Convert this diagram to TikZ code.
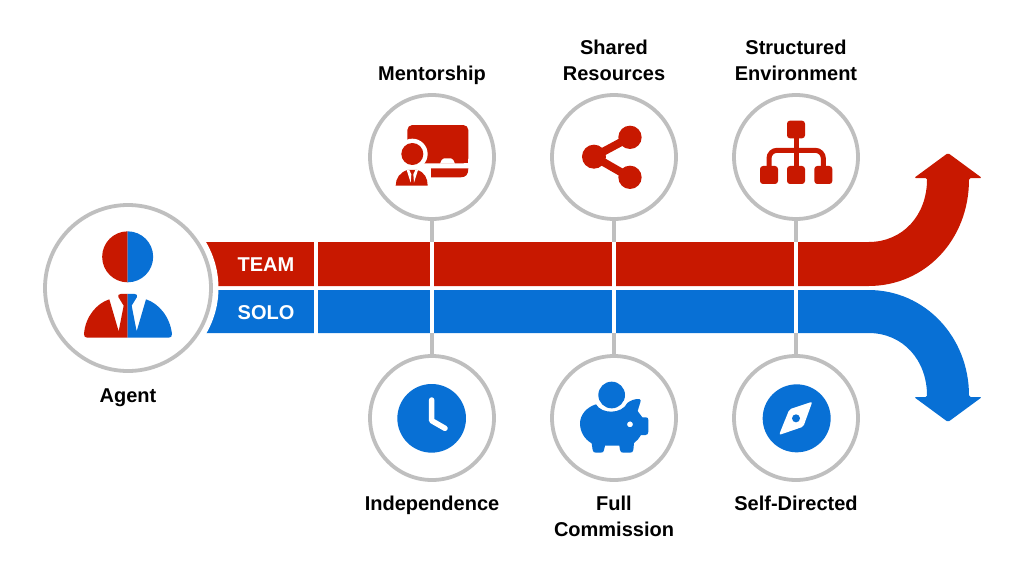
\documentclass[tikz,border=0pt]{standalone}
\usepackage{fontspec}
\setmainfont{Liberation Sans}
\definecolor{rd}{HTML}{C81800}
\definecolor{bl}{HTML}{0870D5}
\definecolor{gy}{HTML}{BFBFBF}
\tikzset{
  ring/.style={circle,draw=gy,line width=3.8pt,fill=white,minimum size=124pt,inner sep=0pt},
  big/.style={circle,draw=gy,line width=3.8pt,fill=white,minimum size=166pt,inner sep=0pt},
  lab/.style={font=\bfseries\fontsize{20}{26}\selectfont,align=center,text=black},
  bar/.style={font=\bfseries\fontsize{20}{24}\selectfont,text=white},
  link/.style={draw=gy,line width=4pt},
  gap/.style={draw=white,line width=4pt},
  icon/.style={x=0.3333pt,y=-0.3333pt},
}
\begin{document}
\begin{tikzpicture}[x=1pt,y=-1pt]
\useasboundingbox (0,0) rectangle (1024,576);
% bars
\fill[rd,rounded corners=1.5pt] (200,242) -- (867,242) .. controls (903,242) and (927,215) .. (927,178) -- (914,178) -- (948,153) -- (982,178) -- (969,178) .. controls (969,240) and (925,286) .. (867,286) -- (200,286) -- cycle;
\fill[bl,rounded corners=1.5pt] (200,290) -- (867,290) .. controls (925,290) and (969,337) .. (969,397) -- (982,397) -- (948,422) -- (914,397) -- (927,397) .. controls (927,360) and (903,333) .. (867,333) -- (200,333) -- cycle;
% connectors
\node[ring] (m) at (432,157) {};
\node[ring] (s) at (614,157) {};
\node[ring] (e) at (796,157) {};
\node[ring] (i) at (432,418) {};
\node[ring] (f) at (614,418) {};
\node[ring] (d) at (796,418) {};
\foreach \a/\b in {m/i,s/f,e/d}{
  \draw[link] (\a.south) -- (\b.north);
  \path (\a) ++(0,85) coordinate (t\a) ++(0,91) coordinate (u\a);
  \draw[gap] (t\a) -- (u\a);
}
\fill[white] (128,288) circle (90.5);
\node[big] (a) at (128,288) {};
\draw[white,line width=4pt] (315.5,240) -- (315.5,335);
\node[bar] (team) at (266,264.5) {TEAM};
\node[bar] (solo) at (266,312.5) {SOLO};
% labels
\node[lab,anchor=base] (lm) at (432,80) {Mentorship};
\node[lab] (ls) at (614,60) {Shared\\Resources};
\node[lab] (le) at (796,60) {Structured\\Environment};
\node[lab,anchor=base] (li) at (432,510) {Independence};
\node[lab] (lf) at (614,516) {Full\\Commission};
\node[lab,anchor=base] (ld) at (796,510) {Self-Directed};
\node[lab,anchor=base] (la) at (128,402) {Agent};
% agent icon
\begin{scope}[shift={(30,190)},icon]
\fill[rd] (293,277) arc[start angle=90,end angle=270,radius=76.5] -- cycle;
\fill[bl] (293,277) arc[start angle=90,end angle=-90,radius=76.5] -- cycle;
\fill[rd] (293,312) -- (272,312) .. controls (266,312) and (263,316) .. (265,321) -- (281,347) -- (266,424) -- (238,328) .. controls (200,340) and (166,380) .. (162,432) .. controls (162,440) and (165,443) .. (172,443) -- (293,443) -- cycle;
\fill[bl] (293,312) -- (314,312) .. controls (320,312) and (323,316) .. (321,321) -- (305,347) -- (320,424) -- (348,328) .. controls (386,340) and (420,380) .. (426,432) .. controls (426,440) and (423,443) .. (416,443) -- (293,443) -- cycle;
\end{scope}
% mentorship icon
\begin{scope}[shift={(390,115)},icon]
\fill[rd,rounded corners=5pt] (52,30) rectangle (235,145);
\fill[rd] (52,120) rectangle (235,145);
\fill[white] (150,146) -- (155,135) .. controls (156,131) and (158,130) .. (162,130) -- (183,130) .. controls (187,130) and (189,131) .. (190,135) -- (195,146) -- cycle;
\fill[rd] (110,160) -- (235,160) .. controls (235,178) and (228,187) .. (212,187) -- (110,187) -- cycle;
\fill[white] (67,117) circle (46);
\fill[white] (17,160) rectangle (122,220);
\fill[rd] (67,117) circle (33);
\fill[rd] (17,212) .. controls (17,190) and (30,172) .. (52,165) -- (82,165) .. controls (104,172) and (113,190) .. (113,212) -- cycle;
\fill[white] (50,165) -- (62,203) -- (64,178) -- (58,165) -- cycle;
\fill[white] (84,165) -- (72,203) -- (70,178) -- (76,165) -- cycle;
\end{scope}
% share icon
\begin{scope}[shift={(360,90)},icon]
\draw[rd,line width=8pt] (810,142) -- (702,200) -- (810,262);
\fill[rd] (810,142) circle (35) (702,200) circle (36) (810,262) circle (35);
\end{scope}
% hierarchy icon
\begin{scope}[shift={(720,90)},icon]
\draw[rd,line width=5pt] (228,140) -- (228,235);
\draw[rd,line width=5pt,rounded corners=8pt] (147,235) -- (147,181) -- (310,181) -- (310,235);
\fill[rd,rounded corners=3pt] (201,92) rectangle (255,145);
\fill[rd,rounded corners=3pt] (120,228) rectangle (174,282);
\fill[rd,rounded corners=3pt] (201,228) rectangle (255,282);
\fill[rd,rounded corners=3pt] (283,228) rectangle (337,282);
\end{scope}
% clock icon
\begin{scope}[shift={(360,350)},icon]
\fill[bl] (215,205) circle (103);
\draw[white,line width=5.5pt,line cap=round,line join=round] (215,150) -- (215,212) -- (255,235);
\end{scope}
% piggy icon
\begin{scope}[shift={(570,375)},icon]
\fill[bl] (125,60) circle (40);
\fill[bl,even odd rule] (78,88) .. controls (95,118) and (155,118) .. (172,84) .. controls (182,76) and (195,71) .. (208,72) .. controls (213,73) and (213,78) .. (211,82) -- (203,108) .. controls (208,115) and (213,122) .. (217,127) -- (228,127) .. controls (233,127) and (235,130) .. (235,135) -- (235,170) .. controls (235,176) and (232,180) .. (227,180) -- (213,180) .. controls (208,190) and (200,198) .. (192,204) -- (190,225) .. controls (189,231) and (186,233) .. (180,233) -- (160,233) .. controls (154,233) and (151,231) .. (150,225) -- (148,212) -- (105,212) -- (102,225) .. controls (101,231) and (98,233) .. (92,233) -- (78,233) .. controls (72,233) and (69,231) .. (68,225) -- (65,205) .. controls (42,192) and (30,168) .. (30,145) .. controls (30,120) and (50,96) .. (78,88) -- cycle (180,148) circle (9);
\end{scope}
% compass icon
\begin{scope}[shift={(750,375)},icon]
\fill[bl] (140,130) circle (102);
\fill[white,rounded corners=2pt] (187,80) -- (118,103) -- (87,180) -- (160,155) -- cycle;
\fill[bl] (138,130) circle (12);
\end{scope}
\end{tikzpicture}
\end{document}
